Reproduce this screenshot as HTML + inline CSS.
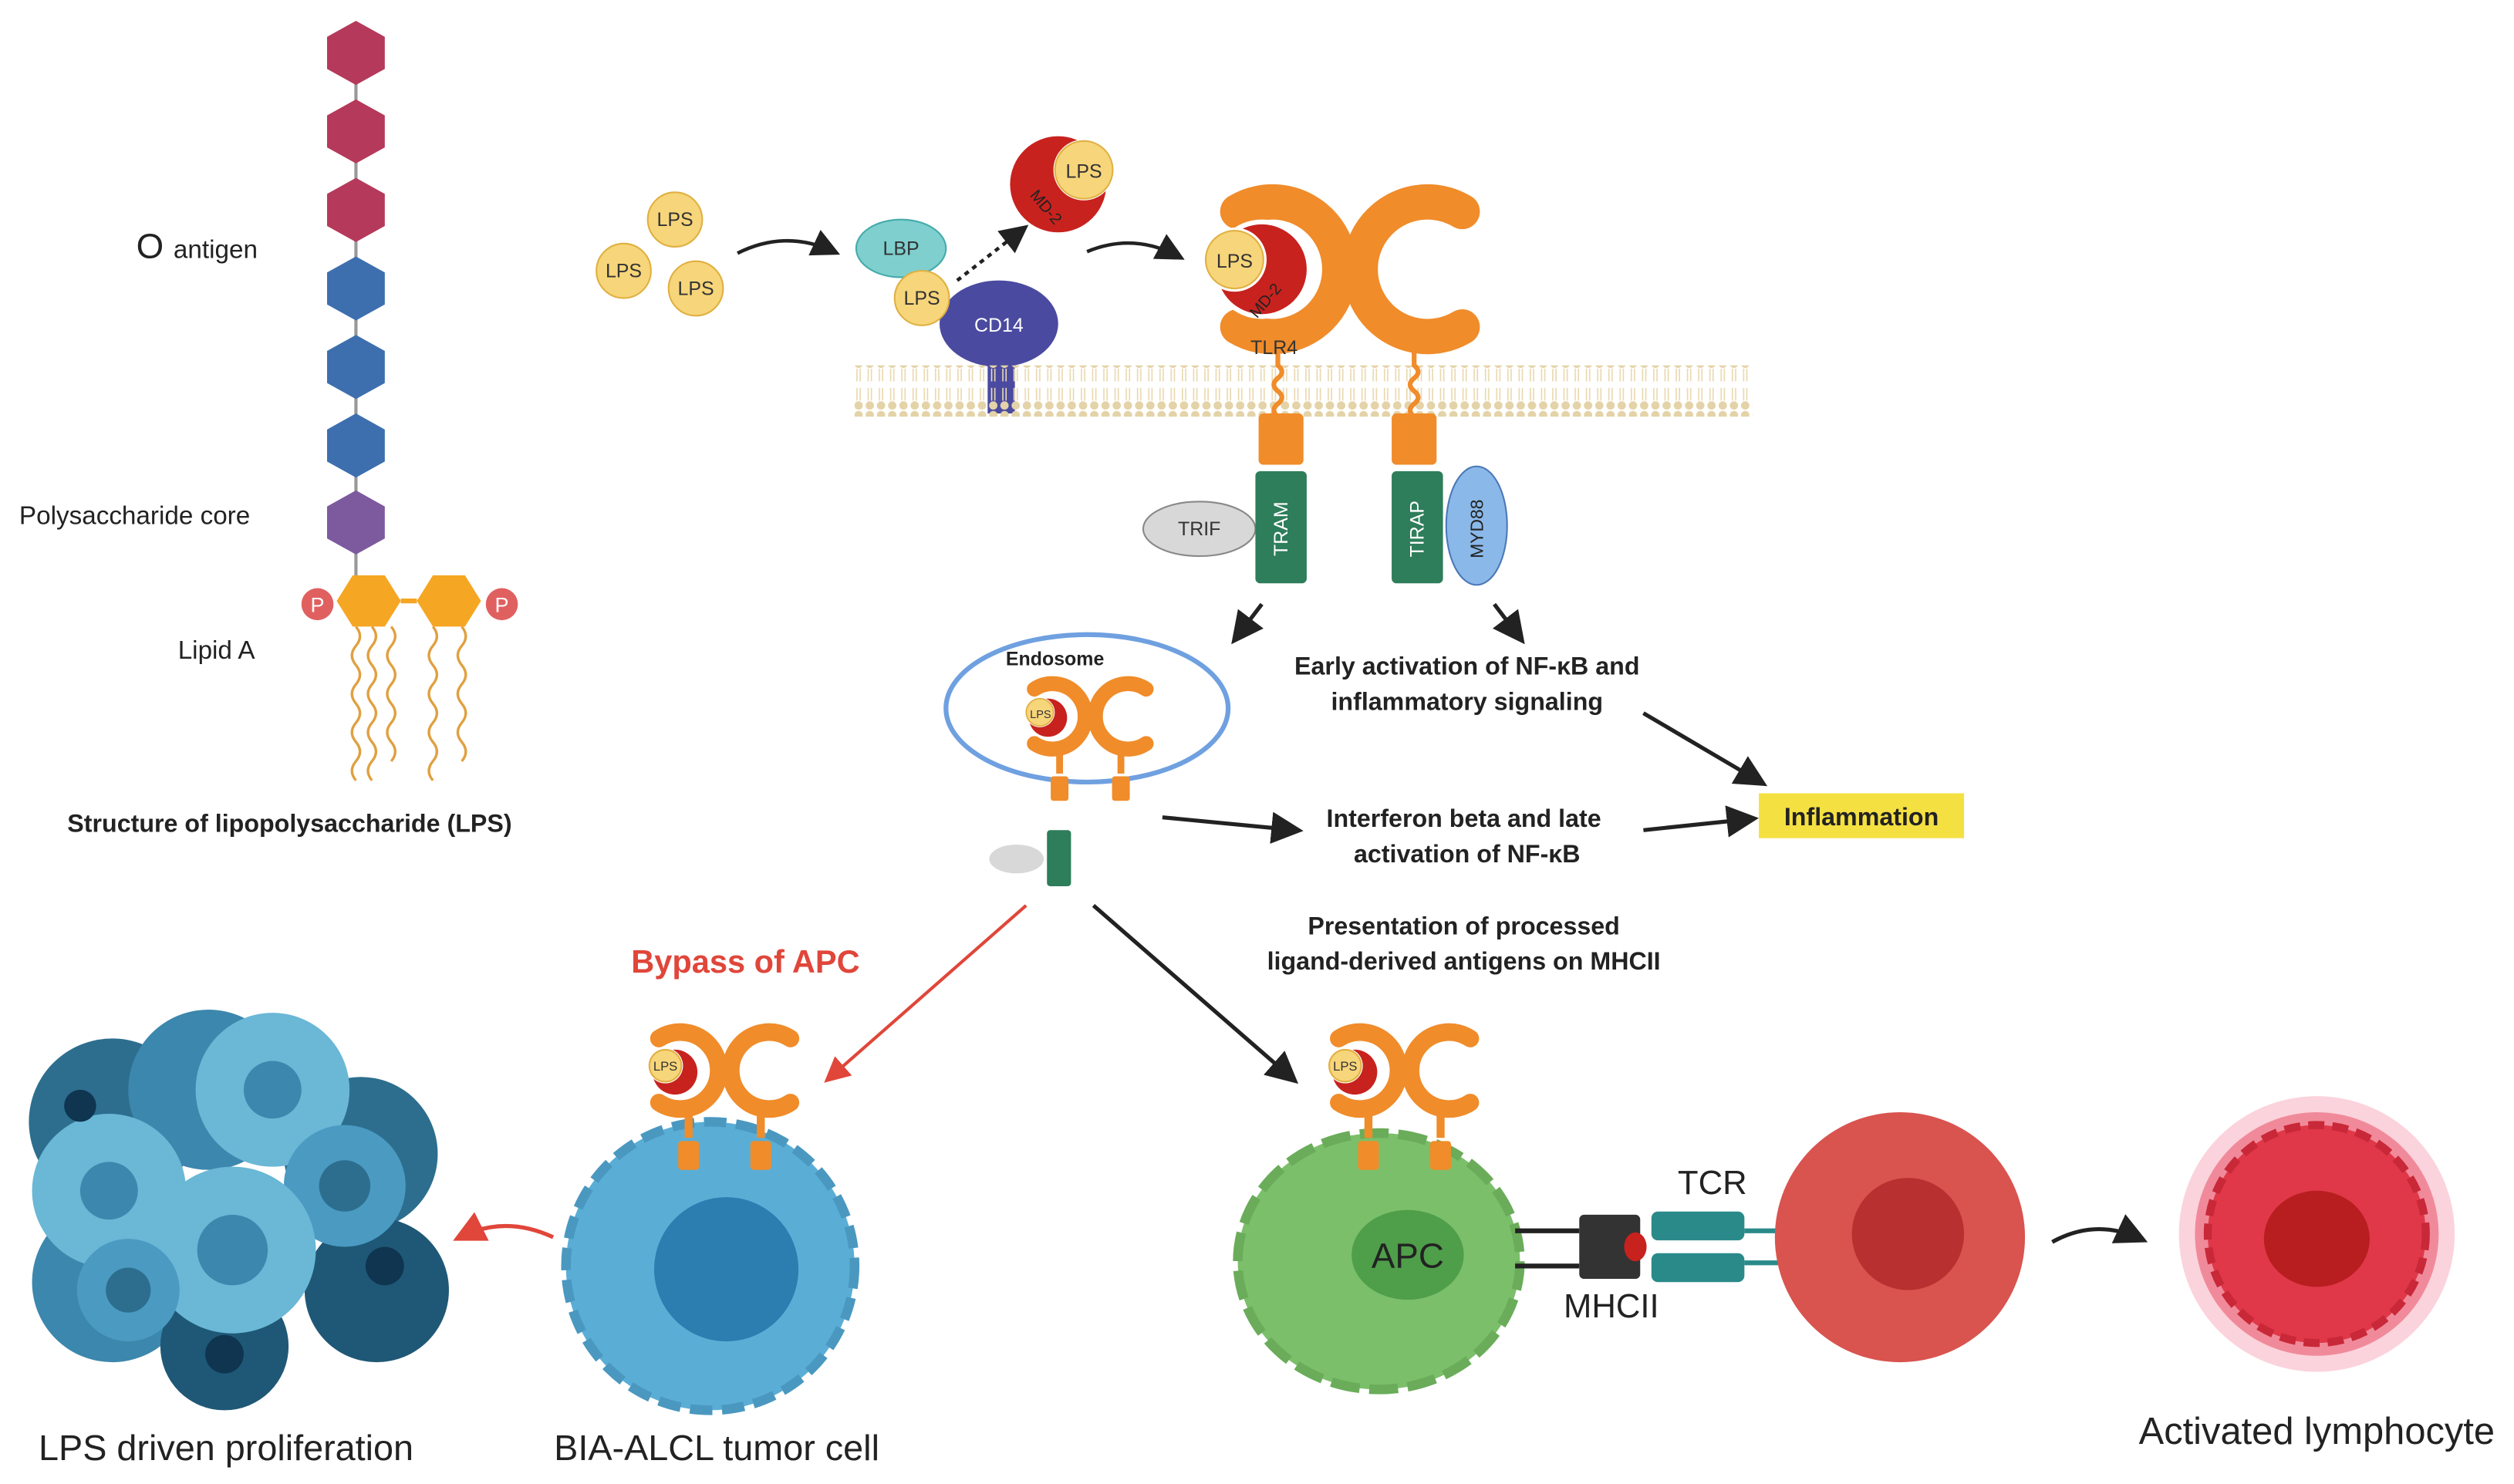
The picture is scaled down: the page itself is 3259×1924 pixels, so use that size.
<!DOCTYPE html>
<html><head><meta charset="utf-8"><style>
html,body{margin:0;padding:0;background:#fff;}
svg{display:block;}
text{font-family:"Liberation Sans",sans-serif;}
</style></head><body>
<svg width="3259" height="1924" viewBox="0 0 1568 926" preserveAspectRatio="none" xmlns="http://www.w3.org/2000/svg">
<defs>
<marker id="ah" markerWidth="8" markerHeight="8" refX="6" refY="4" orient="auto" markerUnits="strokeWidth"><path d="M0,0 L8,4 L0,8 Z" fill="#222"/></marker>
<marker id="ahr" markerWidth="8" markerHeight="8" refX="6" refY="4" orient="auto" markerUnits="strokeWidth"><path d="M0,0 L8,4 L0,8 Z" fill="#e0463a"/></marker>
<pattern id="mem" x="0" y="0" width="7" height="32" patternUnits="userSpaceOnUse">
<circle cx="3.5" cy="3" r="2.6" fill="#e4d3a8"/><circle cx="3.5" cy="29" r="2.6" fill="#e4d3a8"/>
<line x1="2.5" y1="6" x2="2.5" y2="14" stroke="#ead9b0" stroke-width="0.8"/><line x1="4.5" y1="6" x2="4.5" y2="14" stroke="#ead9b0" stroke-width="0.8"/>
<line x1="2.5" y1="18" x2="2.5" y2="26" stroke="#ead9b0" stroke-width="0.8"/><line x1="4.5" y1="18" x2="4.5" y2="26" stroke="#ead9b0" stroke-width="0.8"/>
</pattern>
<g id="rec">
<rect x="-25" y="28" width="5" height="14" fill="#f08c2a"/><rect x="20" y="28" width="5" height="14" fill="#f08c2a"/>
<rect x="-29" y="44" width="13" height="18" rx="2" fill="#f08c2a"/><rect x="16" y="44" width="13" height="18" rx="2" fill="#f08c2a"/>
<path d="M-41,-20 A24,24 0 1,1 -41,20" fill="none" stroke="#f08c2a" stroke-width="11" stroke-linecap="round"/>
<path d="M41,-20 A24,24 0 1,0 41,20" fill="none" stroke="#f08c2a" stroke-width="11" stroke-linecap="round"/>
<circle cx="-30" cy="1" r="16" fill="#fff"/>
<circle cx="-31" cy="1" r="14" fill="#c8221e"/>
<circle cx="-37" cy="-3" r="11" fill="#fff"/>
<circle cx="-37" cy="-3" r="10" fill="#f7d57a" stroke="#e0b040"/>
</g>
</defs>

<!-- LPS chain -->
<line x1="222" y1="20" x2="222" y2="360" stroke="#999" stroke-width="2"/>
<g stroke="none">
<polygon points="222,13 240,23 240,43 222,53 204,43 204,23" fill="#b5395a"/>
<polygon points="222,62 240,72 240,92 222,102 204,92 204,72" fill="#b5395a"/>
<polygon points="222,111 240,121 240,141 222,151 204,141 204,121" fill="#b5395a"/>
<polygon points="222,160 240,170 240,190 222,200 204,190 204,170" fill="#3d6fae"/>
<polygon points="222,209 240,219 240,239 222,249 204,239 204,219" fill="#3d6fae"/>
<polygon points="222,258 240,268 240,288 222,298 204,288 204,268" fill="#3d6fae"/>
<polygon points="222,306 240,316 240,336 222,346 204,336 204,316" fill="#7d5a9e"/>
<polygon points="210,375 220,359 240,359 250,375 240,391 220,391" fill="#f5a623"/>
<polygon points="260,375 270,359 290,359 300,375 290,391 270,391" fill="#f5a623"/>
</g>
<line x1="250" y1="375" x2="260" y2="375" stroke="#f5a623" stroke-width="3"/>
<circle cx="198" cy="377" r="10" fill="#e06060"/><text x="198" y="382" font-size="13" fill="#fff" text-anchor="middle">P</text>
<circle cx="313" cy="377" r="10" fill="#e06060"/><text x="313" y="382" font-size="13" fill="#fff" text-anchor="middle">P</text>
<g fill="none" stroke="#e0a040" stroke-width="1.6">
<path d="M222,391 q5,6 0,12 q-5,6 0,12 q5,6 0,12 q-5,6 0,12 q5,6 0,12 q-5,6 0,12 q5,6 0,12 q-5,6 0,12"/>
<path d="M232,391 q5,6 0,12 q-5,6 0,12 q5,6 0,12 q-5,6 0,12 q5,6 0,12 q-5,6 0,12 q5,6 0,12 q-5,6 0,12"/>
<path d="M244,391 q5,6 0,12 q-5,6 0,12 q5,6 0,12 q-5,6 0,12 q5,6 0,12 q-5,6 0,12 q5,6 0,12"/>
<path d="M270,391 q5,6 0,12 q-5,6 0,12 q5,6 0,12 q-5,6 0,12 q5,6 0,12 q-5,6 0,12 q5,6 0,12 q-5,6 0,12"/>
<path d="M288,391 q5,6 0,12 q-5,6 0,12 q5,6 0,12 q-5,6 0,12 q5,6 0,12 q-5,6 0,12 q5,6 0,12"/>
</g>
<text x="85" y="161" font-size="22" fill="#222">O <tspan font-size="16">antigen</tspan></text>
<text x="12" y="327" font-size="16" fill="#222">Polysaccharide core</text>
<text x="111" y="411" font-size="16" fill="#222">Lipid A</text>
<text x="42" y="519" font-size="15.5" font-weight="bold" fill="#222">Structure of lipopolysaccharide (LPS)</text>

<!-- free LPS -->
<g font-size="12" text-anchor="middle" fill="#333">
<circle cx="421" cy="137" r="17" fill="#f7d57a" stroke="#e0b040"/><text x="421" y="141">LPS</text>
<circle cx="389" cy="169" r="17" fill="#f7d57a" stroke="#e0b040"/><text x="389" y="173">LPS</text>
<circle cx="434" cy="180" r="17" fill="#f7d57a" stroke="#e0b040"/><text x="434" y="184">LPS</text>
</g>
<path d="M460,158 Q490,143 520,157" fill="none" stroke="#222" stroke-width="2.2" marker-end="url(#ah)"/>
<ellipse cx="562" cy="155" rx="28" ry="18" fill="#7fcfcf" stroke="#4aa"/>
<text x="562" y="159" font-size="12" text-anchor="middle" fill="#333">LBP</text>
<rect x="616" y="222" width="17" height="36" fill="#4a4aa0"/>
<ellipse cx="623" cy="202" rx="37" ry="27" fill="#4a4aa0"/>
<text x="623" y="207" font-size="12" text-anchor="middle" fill="#fff">CD14</text>
<circle cx="575" cy="186" r="17" fill="#f7d57a" stroke="#e0b040"/><text x="575" y="190" font-size="12" text-anchor="middle" fill="#333">LPS</text>
<line x1="597" y1="175" x2="638" y2="143" stroke="#222" stroke-width="2.2" stroke-dasharray="3,3" marker-end="url(#ah)"/>
<circle cx="660" cy="115" r="30" fill="#c8221e"/>
<circle cx="676" cy="106" r="19" fill="#fff"/>
<circle cx="676" cy="106" r="18" fill="#f7d57a" stroke="#e0b040"/><text x="676" y="111" font-size="12" text-anchor="middle" fill="#333">LPS</text>
<text x="642" y="122" font-size="10" fill="#222" transform="rotate(50 642 122)">MD-2</text>
<path d="M678,157 Q707,145 735,160" fill="none" stroke="#222" stroke-width="2.2" marker-end="url(#ah)"/>

<!-- membrane -->
<rect x="533" y="228" width="560" height="32" fill="url(#mem)"/>

<!-- TLR4 -->
<g fill="none" stroke="#f08c2a" stroke-width="3">
<path d="M797,205 L797,228 q5,4 0,8 q-5,4 0,8 q5,4 0,8 q-5,4 0,8"/>
<path d="M882,205 L882,228 q5,4 0,8 q-5,4 0,8 q5,4 0,8 q-5,4 0,8"/>
</g>
<path d="M772,132 A42,42 0 1,1 772,204" fill="none" stroke="#f08c2a" stroke-width="22" stroke-linecap="round"/>
<path d="M912,132 A42,42 0 1,0 912,204" fill="none" stroke="#f08c2a" stroke-width="22" stroke-linecap="round"/>
<circle cx="787" cy="168" r="31" fill="#fff"/>
<circle cx="787" cy="168" r="28" fill="#c8221e"/>
<circle cx="770" cy="162" r="20" fill="#fff"/>
<circle cx="770" cy="162" r="18" fill="#f7d57a" stroke="#e0b040"/><text x="770" y="167" font-size="12" text-anchor="middle" fill="#333">LPS</text>
<text x="784" y="199" font-size="10" fill="#222" transform="rotate(-50 784 199)">MD-2</text>
<text x="780" y="221" font-size="12" fill="#333">TLR4</text>
<rect x="785" y="258" width="28" height="32" rx="3" fill="#f08c2a"/>
<rect x="868" y="258" width="28" height="32" rx="3" fill="#f08c2a"/>
<ellipse cx="748" cy="330" rx="35" ry="17" fill="#d8d8d8" stroke="#888"/><text x="748" y="334" font-size="12" text-anchor="middle" fill="#333">TRIF</text>
<rect x="783" y="294" width="32" height="70" rx="3" fill="#2e7d5b"/>
<text x="803" y="330" font-size="12" fill="#fff" text-anchor="middle" transform="rotate(-90 803 330)">TRAM</text>
<rect x="868" y="294" width="32" height="70" rx="3" fill="#2e7d5b"/>
<text x="888" y="330" font-size="12" fill="#fff" text-anchor="middle" transform="rotate(-90 888 330)">TIRAP</text>
<ellipse cx="921" cy="328" rx="19" ry="37" fill="#8ab8e8" stroke="#4a78b8"/>
<text x="925" y="330" font-size="11" fill="#222" text-anchor="middle" transform="rotate(-90 925 330)">MYD88</text>

<line x1="787" y1="377" x2="771" y2="398" stroke="#222" stroke-width="2.5" marker-end="url(#ah)"/>
<line x1="932" y1="377" x2="948" y2="398" stroke="#222" stroke-width="2.5" marker-end="url(#ah)"/>
<g font-size="15.5" font-weight="bold" text-anchor="middle" fill="#222">
<text x="915" y="421">Early activation of NF-κB and</text>
<text x="915" y="443">inflammatory signaling</text>
<text x="913" y="516">Interferon beta and late</text>
<text x="915" y="538">activation of NF-κB</text>
<text x="913" y="583">Presentation of processed</text>
<text x="913" y="605">ligand-derived antigens on MHCII</text>
</g>
<line x1="1025" y1="445" x2="1098" y2="488" stroke="#222" stroke-width="2.5" marker-end="url(#ah)"/>
<rect x="1097" y="495" width="128" height="28" fill="#f5e042"/>
<text x="1161" y="515" font-size="15.5" font-weight="bold" text-anchor="middle" fill="#222">Inflammation</text>

<!-- endosome -->
<ellipse cx="678" cy="442" rx="88" ry="46" fill="none" stroke="#6fa0e0" stroke-width="3"/>
<text x="658" y="415" font-size="12" font-weight="bold" text-anchor="middle" fill="#222">Endosome</text>
<use href="#rec" transform="translate(680,447) scale(0.85)"/>
<text x="649" y="448" font-size="7" text-anchor="middle" fill="#333">LPS</text>
<rect x="653" y="518" width="15" height="35" rx="2" fill="#2e7d5b"/>
<ellipse cx="634" cy="536" rx="17" ry="9" fill="#d8d8d8"/>
<line x1="725" y1="510" x2="808" y2="518" stroke="#222" stroke-width="2.5" marker-end="url(#ah)"/>
<line x1="1025" y1="518" x2="1092" y2="511" stroke="#222" stroke-width="2.5" marker-end="url(#ah)"/>

<line x1="682" y1="565" x2="806" y2="673" stroke="#222" stroke-width="2.5" marker-end="url(#ah)"/>
<line x1="640" y1="565" x2="517" y2="673" stroke="#e0463a" stroke-width="2" marker-end="url(#ahr)"/>
<text x="465" y="607" font-size="20" font-weight="bold" text-anchor="middle" fill="#e0463a">Bypass of APC</text>

<!-- proliferation cluster -->
<g>
<circle cx="70" cy="700" r="52" fill="#2d6e8e"/>
<circle cx="130" cy="680" r="50" fill="#3c87ad"/>
<circle cx="225" cy="720" r="48" fill="#2d6e8e"/>
<circle cx="235" cy="805" r="45" fill="#1f5876"/>
<circle cx="70" cy="800" r="50" fill="#3c87ad"/>
<circle cx="140" cy="840" r="40" fill="#1f5876"/>
<circle cx="170" cy="680" r="48" fill="#6ab7d6"/><circle cx="170" cy="680" r="18" fill="#3c87ad"/>
<circle cx="68" cy="743" r="48" fill="#6ab7d6"/><circle cx="68" cy="743" r="18" fill="#3c87ad"/>
<circle cx="215" cy="740" r="38" fill="#4a9ac2"/><circle cx="215" cy="740" r="16" fill="#2d6e8e"/>
<circle cx="145" cy="780" r="52" fill="#6ab7d6"/><circle cx="145" cy="780" r="22" fill="#3c87ad"/>
<circle cx="80" cy="805" r="32" fill="#4a9ac2"/><circle cx="80" cy="805" r="14" fill="#2d6e8e"/>
<circle cx="240" cy="790" r="12" fill="#0f3550"/><circle cx="50" cy="690" r="10" fill="#0f3550"/><circle cx="140" cy="845" r="12" fill="#0f3550"/>
</g>
<text x="141" y="911" font-size="22.5" text-anchor="middle" fill="#222">LPS driven proliferation</text>
<path d="M345,772 Q315,758 287,772" fill="none" stroke="#e0463a" stroke-width="2.5" marker-end="url(#ahr)"/>

<!-- tumor cell -->
<circle cx="443" cy="790" r="90" fill="#5aaed6" stroke="#4a98c0" stroke-width="6" stroke-dasharray="14,6"/>
<circle cx="453" cy="792" r="45" fill="#2c7eb0"/>
<use href="#rec" x="452" y="668"/>
<text x="415" y="668" font-size="8" text-anchor="middle" fill="#333">LPS</text>
<text x="447" y="911" font-size="22.5" text-anchor="middle" fill="#222">BIA-ALCL tumor cell</text>

<!-- APC -->
<ellipse cx="860" cy="787" rx="88" ry="80" fill="#7bbf6a" stroke="#6aac5a" stroke-width="6" stroke-dasharray="18,6"/>
<ellipse cx="878" cy="783" rx="35" ry="28" fill="#4f9e4a"/>
<text x="878" y="791" font-size="22" text-anchor="middle" fill="#222">APC</text>
<use href="#rec" x="876" y="668"/>
<text x="839" y="668" font-size="8" text-anchor="middle" fill="#333">LPS</text>
<line x1="945" y1="768" x2="985" y2="768" stroke="#222" stroke-width="3"/>
<line x1="945" y1="790" x2="985" y2="790" stroke="#222" stroke-width="3"/>
<rect x="985" y="758" width="38" height="40" rx="3" fill="#333"/>
<ellipse cx="1020" cy="778" rx="7" ry="9" fill="#c8221e"/>
<rect x="1030" y="756" width="58" height="18" rx="4" fill="#2a8a8a"/>
<rect x="1030" y="782" width="58" height="18" rx="4" fill="#2a8a8a"/>
<line x1="1088" y1="768" x2="1112" y2="768" stroke="#2a8a8a" stroke-width="3"/>
<line x1="1088" y1="788" x2="1112" y2="788" stroke="#2a8a8a" stroke-width="3"/>
<text x="1068" y="745" font-size="21" text-anchor="middle" fill="#222">TCR</text>
<text x="1005" y="822" font-size="21" text-anchor="middle" fill="#222">MHCII</text>
<circle cx="1185" cy="772" r="78" fill="#d9534f"/>
<circle cx="1190" cy="770" r="35" fill="#b83030"/>
<path d="M1280,775 Q1307,760 1335,773" fill="none" stroke="#222" stroke-width="2.5" marker-end="url(#ah)"/>

<!-- activated lymphocyte -->
<circle cx="1445" cy="770" r="86" fill="#fbd3dc"/>
<circle cx="1445" cy="770" r="76" fill="#f08a9a"/>
<circle cx="1445" cy="770" r="68" fill="#e03848" stroke="#c82838" stroke-width="5" stroke-dasharray="10,5"/>
<ellipse cx="1445" cy="773" rx="33" ry="30" fill="#b81e20"/>
<text x="1445" y="901" font-size="23.5" text-anchor="middle" fill="#222">Activated lymphocyte</text>
</svg>
</body></html>
